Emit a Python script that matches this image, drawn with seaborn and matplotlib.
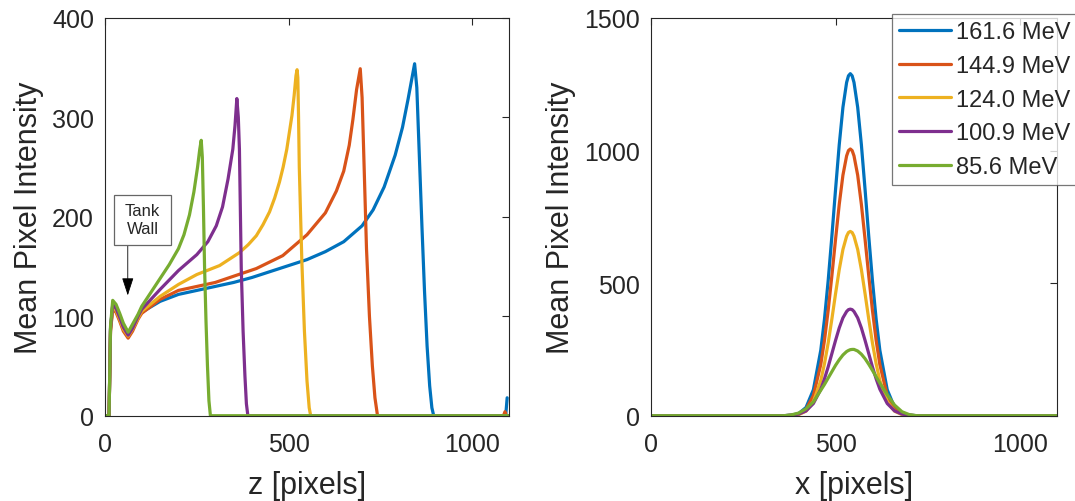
import matplotlib
matplotlib.use("Agg")
import matplotlib.pyplot as plt
from matplotlib.patches import Rectangle
import seaborn as sns

# ---- left panel: depth profiles (z in pixels, mean intensity) ----
z_161 = [0, 11, 15, 21, 30, 40, 50, 63, 75, 90, 100, 150, 200, 275, 350, 400, 450, 500, 550, 600, 650, 700,
         730, 760, 790, 810, 825, 837, 843, 849, 856, 863, 870, 877, 884, 890, 895, 1091, 1095]
i_161 = [0, 0, 88, 111, 108, 99, 89, 81, 88, 99, 104, 115, 122, 128, 134, 139, 145, 151, 157, 165, 175, 191,
         207, 230, 262, 290, 318, 342, 354, 330, 260, 190, 125, 70, 30, 8, 0, 0, 18]

z_145 = [0, 11, 15, 21, 30, 40, 50, 63, 75, 90, 100, 150, 200, 300, 412, 484, 550, 600, 630, 650, 665, 675,
         685, 695, 700, 704, 712, 720, 728, 735, 742, 1085, 1089, 1093]
i_145 = [0, 0, 85, 107, 104, 95, 85, 78, 85, 97, 103, 117, 126, 134, 148, 161, 182, 204, 226, 246, 272, 298,
         328, 349, 320, 270, 168, 100, 50, 18, 0, 0, 4, 0]

z_124 = [0, 11, 15, 21, 30, 40, 50, 63, 75, 90, 100, 150, 200, 250, 312, 366, 390, 412, 430, 448, 462, 475,
         485, 495, 502, 509, 515, 520, 523, 525, 527, 529, 533, 536, 543, 550, 556, 560, 1100]
i_124 = [0, 0, 86, 109, 106, 97, 87, 80, 87, 98, 105, 120, 132, 142, 151, 164, 172, 181, 192, 205, 219, 235,
         250, 268, 285, 302, 322, 342, 348, 340, 300, 250, 195, 155, 85, 35, 8, 0, 0]

z_101 = [0, 11, 15, 21, 30, 40, 50, 63, 75, 90, 100, 150, 200, 250, 280, 303, 320, 335, 348, 354, 359, 363,
         366, 371, 376, 381, 385, 389, 1100]
i_101 = [0, 0, 87, 112, 108, 99, 89, 81, 88, 100, 107, 127, 146, 162, 175, 191, 210, 238, 268, 292, 319, 300,
         268, 148, 85, 40, 12, 0, 0]

z_86 = [0, 11, 15, 21, 30, 40, 50, 63, 75, 90, 100, 125, 150, 175, 200, 215, 230, 242, 252, 258, 262, 265,
        268, 271, 275, 279, 283, 287, 1100]
i_86 = [0, 0, 90, 116, 112, 103, 93, 84, 92, 102, 110, 124, 138, 152, 168, 182, 202, 225, 250, 268, 277, 260,
        210, 151, 95, 50, 15, 0, 0]

# ---- right panel: lateral profiles (x in pixels) ----
x_lat = [0, 360, 380, 400, 420, 440, 460, 470, 480, 490, 500, 510, 520, 530, 535, 540, 545, 550, 560, 570,
         580, 590, 600, 610, 620, 640, 660, 680, 700, 720, 1100]
p_161 = [0, 0, 2, 8, 31, 98, 247, 364, 509, 676, 853, 1022, 1163, 1257, 1282, 1290, 1282, 1257, 1163, 1022,
         853, 676, 509, 364, 247, 98, 31, 8, 2, 0, 0]
p_145 = [0, 0, 1, 6, 24, 76, 193, 284, 397, 527, 665, 797, 907, 980, 1000, 1006, 1000, 980, 907, 797,
         665, 527, 397, 284, 193, 76, 24, 6, 1, 0, 0]
p_124 = [0, 0, 1, 4, 17, 53, 133, 196, 274, 364, 460, 551, 627, 677, 691, 695, 691, 677, 627, 551,
         460, 364, 274, 196, 133, 53, 17, 4, 1, 0, 0]
p_101 = [0, 0, 2, 6, 18, 46, 100, 139, 184, 234, 284, 331, 369, 393, 400, 402, 400, 393, 369, 331,
         284, 234, 184, 139, 100, 46, 18, 6, 2, 0, 0]
p_86 = [0, 0, 3, 10, 26, 52, 96, 118, 142, 166, 190, 211, 229, 242, 246, 249, 250, 250, 244, 232,
        215, 194, 171, 147, 123, 79, 40, 15, 4, 0, 0]

labels = ["161.6 MeV", "144.9 MeV", "124.0 MeV", "100.9 MeV", "85.6 MeV"]
colors = ["#0072BD", "#D95319", "#EDB120", "#7E2F8E", "#77AC30"]

sns.set_style("white")
plt.rcParams["font.family"] = ["Liberation Sans", "DejaVu Sans"]
txt = "#262626"

fig = plt.figure(figsize=(10.75, 5.02), dpi=100)
ax1 = fig.add_axes([105 / 1075, 85.3 / 502, 404 / 1075, 397.7 / 502])
ax2 = fig.add_axes([651 / 1075, 85.3 / 502, 406 / 1075, 397.7 / 502])

depth = [(z_161, i_161), (z_145, i_145), (z_124, i_124), (z_101, i_101), (z_86, i_86)]
for (zz, ii), c in zip(depth, colors):
    sns.lineplot(x=zz, y=ii, ax=ax1, color=c, linewidth=2.3, estimator=None, sort=False, legend=False)

for pp, c, lab in zip([p_161, p_145, p_124, p_101, p_86], colors, labels):
    sns.lineplot(x=x_lat, y=pp, ax=ax2, color=c, linewidth=2.3, estimator=None, sort=False, label=lab)

ax1.set_xlim(0, 1100)
ax1.set_ylim(0, 400)
ax1.set_xticks([0, 500, 1000])
ax1.set_yticks([0, 100, 200, 300, 400])
ax1.set_xlabel("z [pixels]", fontsize=22, color=txt, labelpad=10)
ax1.set_ylabel("Mean Pixel Intensity", fontsize=22, color=txt, labelpad=6)

ax2.set_xlim(0, 1100)
ax2.set_ylim(0, 1500)
ax2.set_xticks([0, 500, 1000])
ax2.set_yticks([0, 500, 1000, 1500])
ax2.set_xlabel("x [pixels]", fontsize=22, color=txt, labelpad=10)
ax2.set_ylabel("Mean Pixel Intensity", fontsize=22, color=txt, labelpad=6)

for ax in (ax1, ax2):
    ax.tick_params(axis="both", which="both", direction="in", length=5, width=0.8,
                   top=True, right=True, labelsize=18, labelcolor=txt, color=txt)
    ax.tick_params(axis="x", pad=12)
    ax.tick_params(axis="y", pad=8)
    for s in ax.spines.values():
        s.set_visible(True)
        s.set_color(txt)
        s.set_linewidth(0.8)

# tank wall annotation (box drawn around the label, arrow pointing at the dip)
ax1.add_patch(Rectangle((25.5, 172), 153, 50, fill=True, fc="white", ec="#666666", lw=0.9, zorder=4))
ax1.text(102, 197, "Tank\nWall", fontsize=12, color=txt, ha="center", va="center", linespacing=1.25, zorder=5)
ax1.annotate("", xy=(62, 121), xytext=(62, 172),
             arrowprops=dict(arrowstyle="-|>,head_length=1.1,head_width=0.36", mutation_scale=10,
                             color="black", lw=0.6, shrinkA=0, shrinkB=0))

leg = ax2.legend(loc="upper left", bbox_to_anchor=(892 / 1075, 1 - 15 / 502), bbox_transform=fig.transFigure,
                 fontsize=17, frameon=True, fancybox=False, edgecolor="#555555", borderaxespad=0,
                 handlelength=2.2, handletextpad=0.2, labelspacing=0.5, borderpad=0.3)
leg.get_frame().set_linewidth(0.9)
for t in leg.get_texts():
    t.set_color(txt)

fig.savefig("out.png", dpi=100)
